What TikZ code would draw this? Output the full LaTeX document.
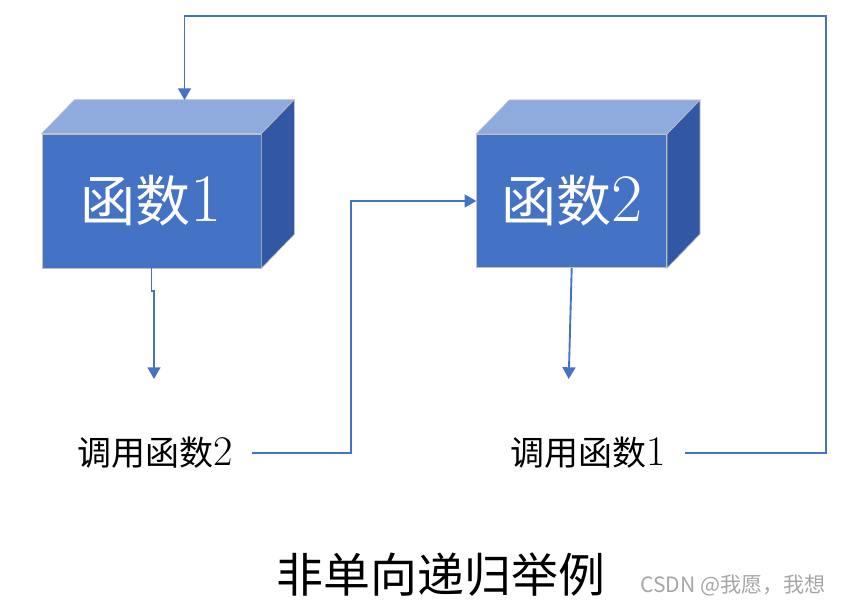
\documentclass[tikz,border=0pt]{standalone}
\usepackage{fontspec}
\newfontfamily\cjk{Noto Sans CJK SC}
\usepackage{xcolor}
\usetikzlibrary{arrows.meta}
\definecolor{boxfront}{HTML}{4472C4}
\definecolor{boxtop}{HTML}{8FAADC}
\definecolor{boxside}{HTML}{3258A5}
\definecolor{boxedge}{HTML}{BFBFBF}
\definecolor{linkblue}{HTML}{4472C4}
\definecolor{markgray}{HTML}{A6A6A6}

\begin{document}
\begin{tikzpicture}[x=0.03cm,y=-0.03cm,
	face/.style={draw=boxedge,line width=0.6pt,fill=boxfront,inner sep=0pt,text=white,font=\fontsize{47}{47}\selectfont},
	link/.style={draw=linkblue,line width=1.6pt,-{Triangle[width=11pt,length=10pt]}},
	callnode/.style={font=\fontsize{29}{29}\selectfont,inner xsep=0.57cm}]
	\useasboundingbox (0,0) rectangle (846,607);
	% the two boxes
	\node[face,minimum width=6.57cm,minimum height=4.02cm] (f1) at (151.5,201) {{\cjk 函数}{\fontsize{58}{58}\selectfont 1}};
	\node[face,minimum width=5.7cm,minimum height=4.0cm] (f2) at (571.7,201) {{\cjk 函数}{\fontsize{58}{58}\selectfont 2}};
	\foreach \b in {f1,f2}{
		\filldraw[fill=boxtop,draw=boxedge,line width=0.6pt] (\b.north west) -- ++(33,-34) -- ([shift={(33,-34)}]\b.north east) -- (\b.north east) -- cycle;
		\filldraw[fill=boxside,draw=boxedge,line width=0.6pt] (\b.north east) -- ([shift={(33,-34)}]\b.north east) -- ([shift={(33,-34)}]\b.south east) -- (\b.south east) -- cycle;
	}
	% labels
	\node[callnode] (l1) at (155,453) {\cjk 调用函数\rmfamily\fontsize{36}{36}\selectfont 2};
	\node[callnode] (l2) at (588,453) {\cjk 调用函数\rmfamily\fontsize{36}{36}\selectfont 1};
	\node[font=\fontsize{40}{40}\selectfont\cjk] (title) at (441,575) {非单向递归举例};
	\node[font=\fontsize{18}{18}\selectfont\cjk,text=markgray] (mark) at (733,585) {CSDN @我愿，我想};
	\coordinate (e1) at (154,379);
	\coordinate (e2) at (568.7,379);
	\coordinate (t1) at (184.5,100);
	% calls
	\draw[link] (f1.south) -- ++(0,23) -| (e1);
	\draw[link] (f2.south) -- (e2);
	\draw[link] (l1.east) -| (351,300) |- (f2.west);
	\draw[link] (l2.east) -| (826,16) -| (t1);
\end{tikzpicture}
\end{document}
